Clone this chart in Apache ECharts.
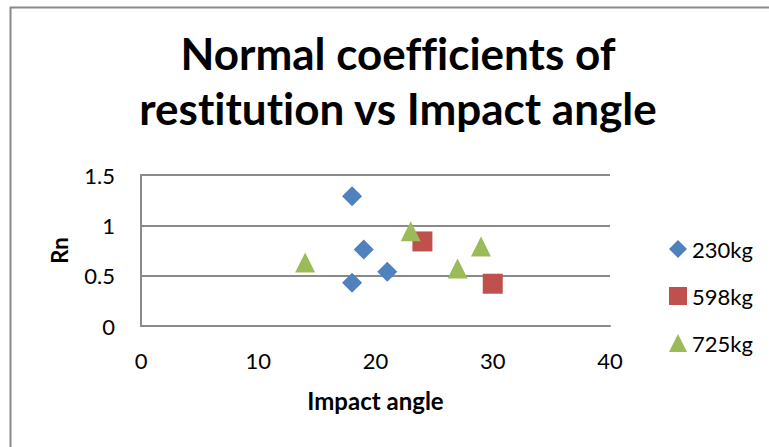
<!DOCTYPE html>
<html>
<head>
<meta charset="utf-8">
<script src="https://cdn.jsdelivr.net/npm/echarts@6/dist/echarts.min.js"></script>
<style>
  html, body { margin: 0; padding: 0; background: #fff; }
  #chart { width: 769px; height: 447px; }
  /* keep "ti" / "fi" as separate letters */
  #chart text { font-variant-ligatures: none; font-feature-settings: "liga" 0, "clig" 0; }
</style>
</head>
<body>
<div id="chart"></div>
<script>
// Impact angle (x) and normal coefficient of restitution Rn (y) for each mass
const seriesNames = ['230kg', '598kg', '725kg'];
const angle230 = [18, 19, 21, 18];
const rn230    = [1.29, 0.76, 0.54, 0.43];
const angle598 = [24, 30];
const rn598    = [0.84, 0.42];
const angle725 = [14, 23, 27, 29];
const rn725    = [0.63, 0.94, 0.57, 0.79];

const xTicks = [0, 10, 20, 30, 40];
const yTicks = [0, 0.5, 1, 1.5];

const colors = ['#4F81BD', '#C0504D', '#9BBB59'];
const symbols = ['diamond', 'rect', 'triangle'];

function pairs(xs, ys) {
  return xs.map((x, i) => [x, ys[i]]);
}

const seriesData = [
  pairs(angle230, rn230),
  pairs(angle598, rn598),
  pairs(angle725, rn725)
];

const FONT = 'Lato, "Open Sans", sans-serif';
const gridLine = { color: '#8a8a8a', width: 2 };

const chart = echarts.init(document.getElementById('chart'), null, { renderer: 'svg' });

chart.setOption({
  backgroundColor: '#ffffff',
  animation: false,
  graphic: [{
    type: 'rect',
    left: 8, top: 5,
    shape: { x: 0, y: 0, width: 800, height: 500 },
    style: { fill: 'none', stroke: '#8a8a8a', lineWidth: 2 },
    silent: true
  }],
  title: {
    text: 'Normal coefficients of\nrestitution vs Impact angle',
    left: 393,
    textAlign: 'center',
    top: 20,
    textStyle: {
      fontFamily: FONT,
      fontWeight: 'bold',
      fontSize: 44,
      lineHeight: 55,
      color: '#000'
    }
  },
  legend: {
    orient: 'vertical',
    left: 664,
    top: 233,
    itemWidth: 18,
    itemHeight: 18,
    itemGap: 25,
    textStyle: { fontFamily: FONT, fontSize: 22, color: '#000' },
    data: seriesNames.map((n, i) => ({ name: n, icon: symbols[i] }))
  },
  grid: { left: 141, right: 159, top: 175, bottom: 121 },
  xAxis: {
    type: 'value',
    min: xTicks[0],
    max: xTicks[xTicks.length - 1],
    interval: xTicks[1] - xTicks[0],
    name: 'Impact angle',
    nameLocation: 'middle',
    nameGap: 62,
    nameTextStyle: { fontFamily: FONT, fontWeight: 'bold', fontSize: 24, color: '#000' },
    axisLine: { show: true, lineStyle: gridLine },
    axisTick: { show: false },
    splitLine: { show: false },
    axisLabel: { fontFamily: FONT, fontSize: 22, color: '#000', margin: 23 }
  },
  yAxis: {
    type: 'value',
    min: yTicks[0],
    max: yTicks[yTicks.length - 1],
    interval: yTicks[1] - yTicks[0],
    name: 'Rn',
    nameLocation: 'middle',
    nameGap: 71,
    nameRotate: 90,
    nameTextStyle: { fontFamily: FONT, fontWeight: 'bold', fontSize: 22, color: '#000' },
    axisLine: { show: true, lineStyle: gridLine },
    axisTick: { show: false },
    splitLine: { show: true, lineStyle: gridLine },
    axisLabel: { fontFamily: FONT, fontSize: 22, color: '#000', margin: 26 }
  },
  series: seriesNames.map((name, i) => ({
    name: name,
    type: 'scatter',
    symbol: symbols[i],
    symbolSize: 20,
    itemStyle: { color: colors[i], opacity: 1 },
    data: seriesData[i]
  }))
});
</script>
</body>
</html>
